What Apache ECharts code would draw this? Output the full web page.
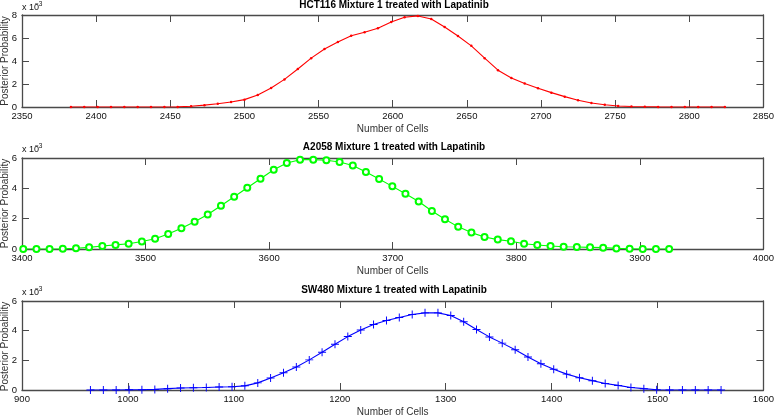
<!DOCTYPE html>
<html>
<head>
<meta charset="utf-8">
<script src="https://cdn.jsdelivr.net/npm/echarts@6/dist/echarts.min.js"></script>
<style>html,body{margin:0;padding:0;background:#fff}#c{width:777px;height:418px}</style>
</head>
<body>
<div id="c"></div>
<script>
// Values in units of 1e-3 (axis shows x 10^-3)
const titles = ['HCT116 Mixture 1 treated with Lapatinib', 'A2058 Mixture 1 treated with Lapatinib', 'SW480 Mixture 1 treated with Lapatinib'];
const hctX = [2383,2392,2401,2410,2419,2428,2437,2446,2455,2464,2473,2482,2491,2500,2509,2518,2527,2536,2545,2554,2563,2572,2581,2590,2599,2608,2617,2626,2635,2644,2653,2662,2671,2680,2689,2698,2707,2716,2725,2734,2743,2752,2761,2770,2779,2788,2797,2806,2815,2824];
const hctY = [0,0,0,0,0,0,0,0,0.01,0.06,0.16,0.28,0.43,0.64,1.05,1.65,2.4,3.3,4.25,5.05,5.65,6.2,6.5,6.85,7.4,7.8,7.92,7.65,6.95,6.17,5.32,4.25,3.2,2.53,2.04,1.63,1.25,0.9,0.58,0.35,0.2,0.09,0.04,0.02,0.01,0.005,0,0,0,0];
const a2058X = [3401,3411.7,3422.3,3433,3443.7,3454.3,3465,3475.7,3486.3,3497,3507.7,3518.3,3529,3539.7,3550.3,3561,3571.7,3582.3,3593,3603.7,3614.3,3625,3635.7,3646.3,3657,3667.7,3678.3,3689,3699.7,3710.3,3721,3731.7,3742.3,3753,3763.7,3774.3,3785,3795.7,3806.3,3817,3827.7,3838.3,3849,3859.7,3870.3,3881,3891.7,3902.3,3913,3923.7];
const a2058Y = [0,0,0,0.02,0.05,0.11,0.2,0.27,0.35,0.49,0.68,0.99,1.37,1.79,2.27,2.85,3.44,4.04,4.63,5.23,5.67,5.89,5.89,5.85,5.74,5.51,5.07,4.61,4.13,3.64,3.13,2.51,1.96,1.46,1.08,0.79,0.62,0.51,0.35,0.26,0.2,0.15,0.13,0.11,0.09,0.04,0.02,0,0,0];
const sw480X = [964.6,976.8,988.9,1001.1,1013.2,1025.4,1037.5,1049.7,1061.8,1074,1086.1,1098.3,1110.4,1122.6,1134.7,1146.9,1159,1171.2,1183.3,1195.5,1207.6,1219.8,1231.9,1244.1,1256.2,1268.4,1280.5,1292.7,1304.8,1317,1329.1,1341.3,1353.4,1365.6,1377.7,1389.9,1402,1414.2,1426.3,1438.5,1450.6,1462.8,1474.9,1487.1,1499.2,1511.4,1523.5,1535.7,1547.8,1560];
const sw480Y = [0,0,0,0.01,0.02,0.04,0.09,0.13,0.15,0.17,0.2,0.22,0.28,0.48,0.81,1.16,1.55,2.03,2.55,3.08,3.6,4.04,4.41,4.69,4.89,5.09,5.2,5.2,5.02,4.6,4.08,3.58,3.16,2.71,2.23,1.77,1.4,1.07,0.83,0.63,0.44,0.31,0.17,0.09,0.02,0,0,0,0,0];
const xRanges = [[2350,2850,50],[3400,4000,100],[900,1600,100]];
const yRanges = [[0,8,2],[0,6,2],[0,6,2]];
const xLabel = 'Number of Cells';
const yLabel = 'Posterior Probability';
const scaleMain = 'x 10';
const scaleExp = '\u22123';

const FONT = 'Liberation Sans, Arial, Helvetica, sans-serif';
const grids = [
  {left:22, top:15, width:744, height:92},
  {left:22, top:158, width:744, height:91},
  {left:22, top:301, width:744, height:91}
];
const AX = '#4a4a4a';
const tickStyle = {show:true, inside:true, length:7, lineStyle:{color:AX, width:1}};
const lineStyle = {show:true, onZero:false, lineStyle:{color:AX, width:1.3}};
const noComma = v => String(v);
const xAxes = [], yAxes = [];
grids.forEach((g, i) => {
  const [xmin,xmax,xi] = xRanges[i];
  const [ymin,ymax,yi] = yRanges[i];
  xAxes.push({type:'value', gridIndex:i, min:xmin, max:xmax, interval:xi, position:'bottom',
    axisLine:lineStyle, axisTick:tickStyle, splitLine:{show:false},
    axisLabel:{fontSize:9.5, color:'#111', fontFamily:FONT, margin:4, formatter:noComma},
    name:xLabel, nameLocation:'middle', nameGap:17, nameTextStyle:{fontSize:10, color:'#333', fontFamily:FONT}});
  xAxes.push({type:'value', gridIndex:i, min:xmin, max:xmax, interval:xi, position:'top',
    axisLine:lineStyle, axisTick:tickStyle, splitLine:{show:false}, axisLabel:{show:false}});
  yAxes.push({type:'value', gridIndex:i, min:ymin, max:ymax, interval:yi, position:'left',
    axisLine:lineStyle, axisTick:tickStyle, splitLine:{show:false},
    axisLabel:{fontSize:9.5, color:'#111', fontFamily:FONT, margin:5, formatter:noComma}});
  yAxes.push({type:'value', gridIndex:i, min:ymin, max:ymax, interval:yi, position:'right',
    axisLine:lineStyle, axisTick:tickStyle, splitLine:{show:false}, axisLabel:{show:false}});
});
const plus = 'path://M-0.12,-1H0.12V-0.12H1V0.12H0.12V1H-0.12V0.12H-1V-0.12H-0.12Z';
const zip = (xs, ys) => xs.map((x, k) => [x, ys[k]]);
const series = [
  {type:'line', xAxisIndex:0, yAxisIndex:0, data:zip(hctX,hctY), symbol:'circle', symbolSize:2.5,
    lineStyle:{color:'#ff0000', width:1.1}, itemStyle:{color:'#ff0000'}, animation:false},
  {type:'line', xAxisIndex:2, yAxisIndex:2, data:zip(a2058X,a2058Y), symbol:'emptyCircle', symbolSize:6,
    lineStyle:{color:'#00ff00', width:1.1}, itemStyle:{color:'#00ff00', borderColor:'#00ff00', borderWidth:1}, animation:false},
  {type:'line', xAxisIndex:4, yAxisIndex:4, data:zip(sw480X,sw480Y), symbol:plus, symbolSize:8,
    lineStyle:{color:'#0000ff', width:1.1}, itemStyle:{color:'#0000ff'}, animation:false}
];
const titleTops = [0, 142, 285];
const scaleTops = [3, 145, 288];
const graphic = [];
scaleTops.forEach(t => {
  graphic.push({type:'text', left:22, top:t, style:{text:scaleMain, fontSize:9, fontFamily:FONT, fill:'#111'}});
  graphic.push({type:'text', left:35, top:t-2, style:{text:scaleExp, fontSize:6.5, fontFamily:FONT, fill:'#111'}});
});
grids.forEach(g => {
  graphic.push({type:'text', x:5, y:g.top + g.height/2, rotation:Math.PI/2,
    style:{text:yLabel, fontSize:10, fontFamily:FONT, fill:'#333', align:'center', verticalAlign:'middle'}});
});
const chart = echarts.init(document.getElementById('c'), null, {renderer:'canvas'});
chart.setOption({
  backgroundColor:'#fff',
  animation:false,
  title: titles.map((t, i) => ({text:t, left:394, top:titleTops[i], textAlign:'center', padding:0,
    textStyle:{fontSize:10, fontWeight:'bold', color:'#000', fontFamily:FONT}})),
  grid: grids,
  xAxis: xAxes,
  yAxis: yAxes,
  series: series,
  graphic: graphic
});
</script>
</body>
</html>
